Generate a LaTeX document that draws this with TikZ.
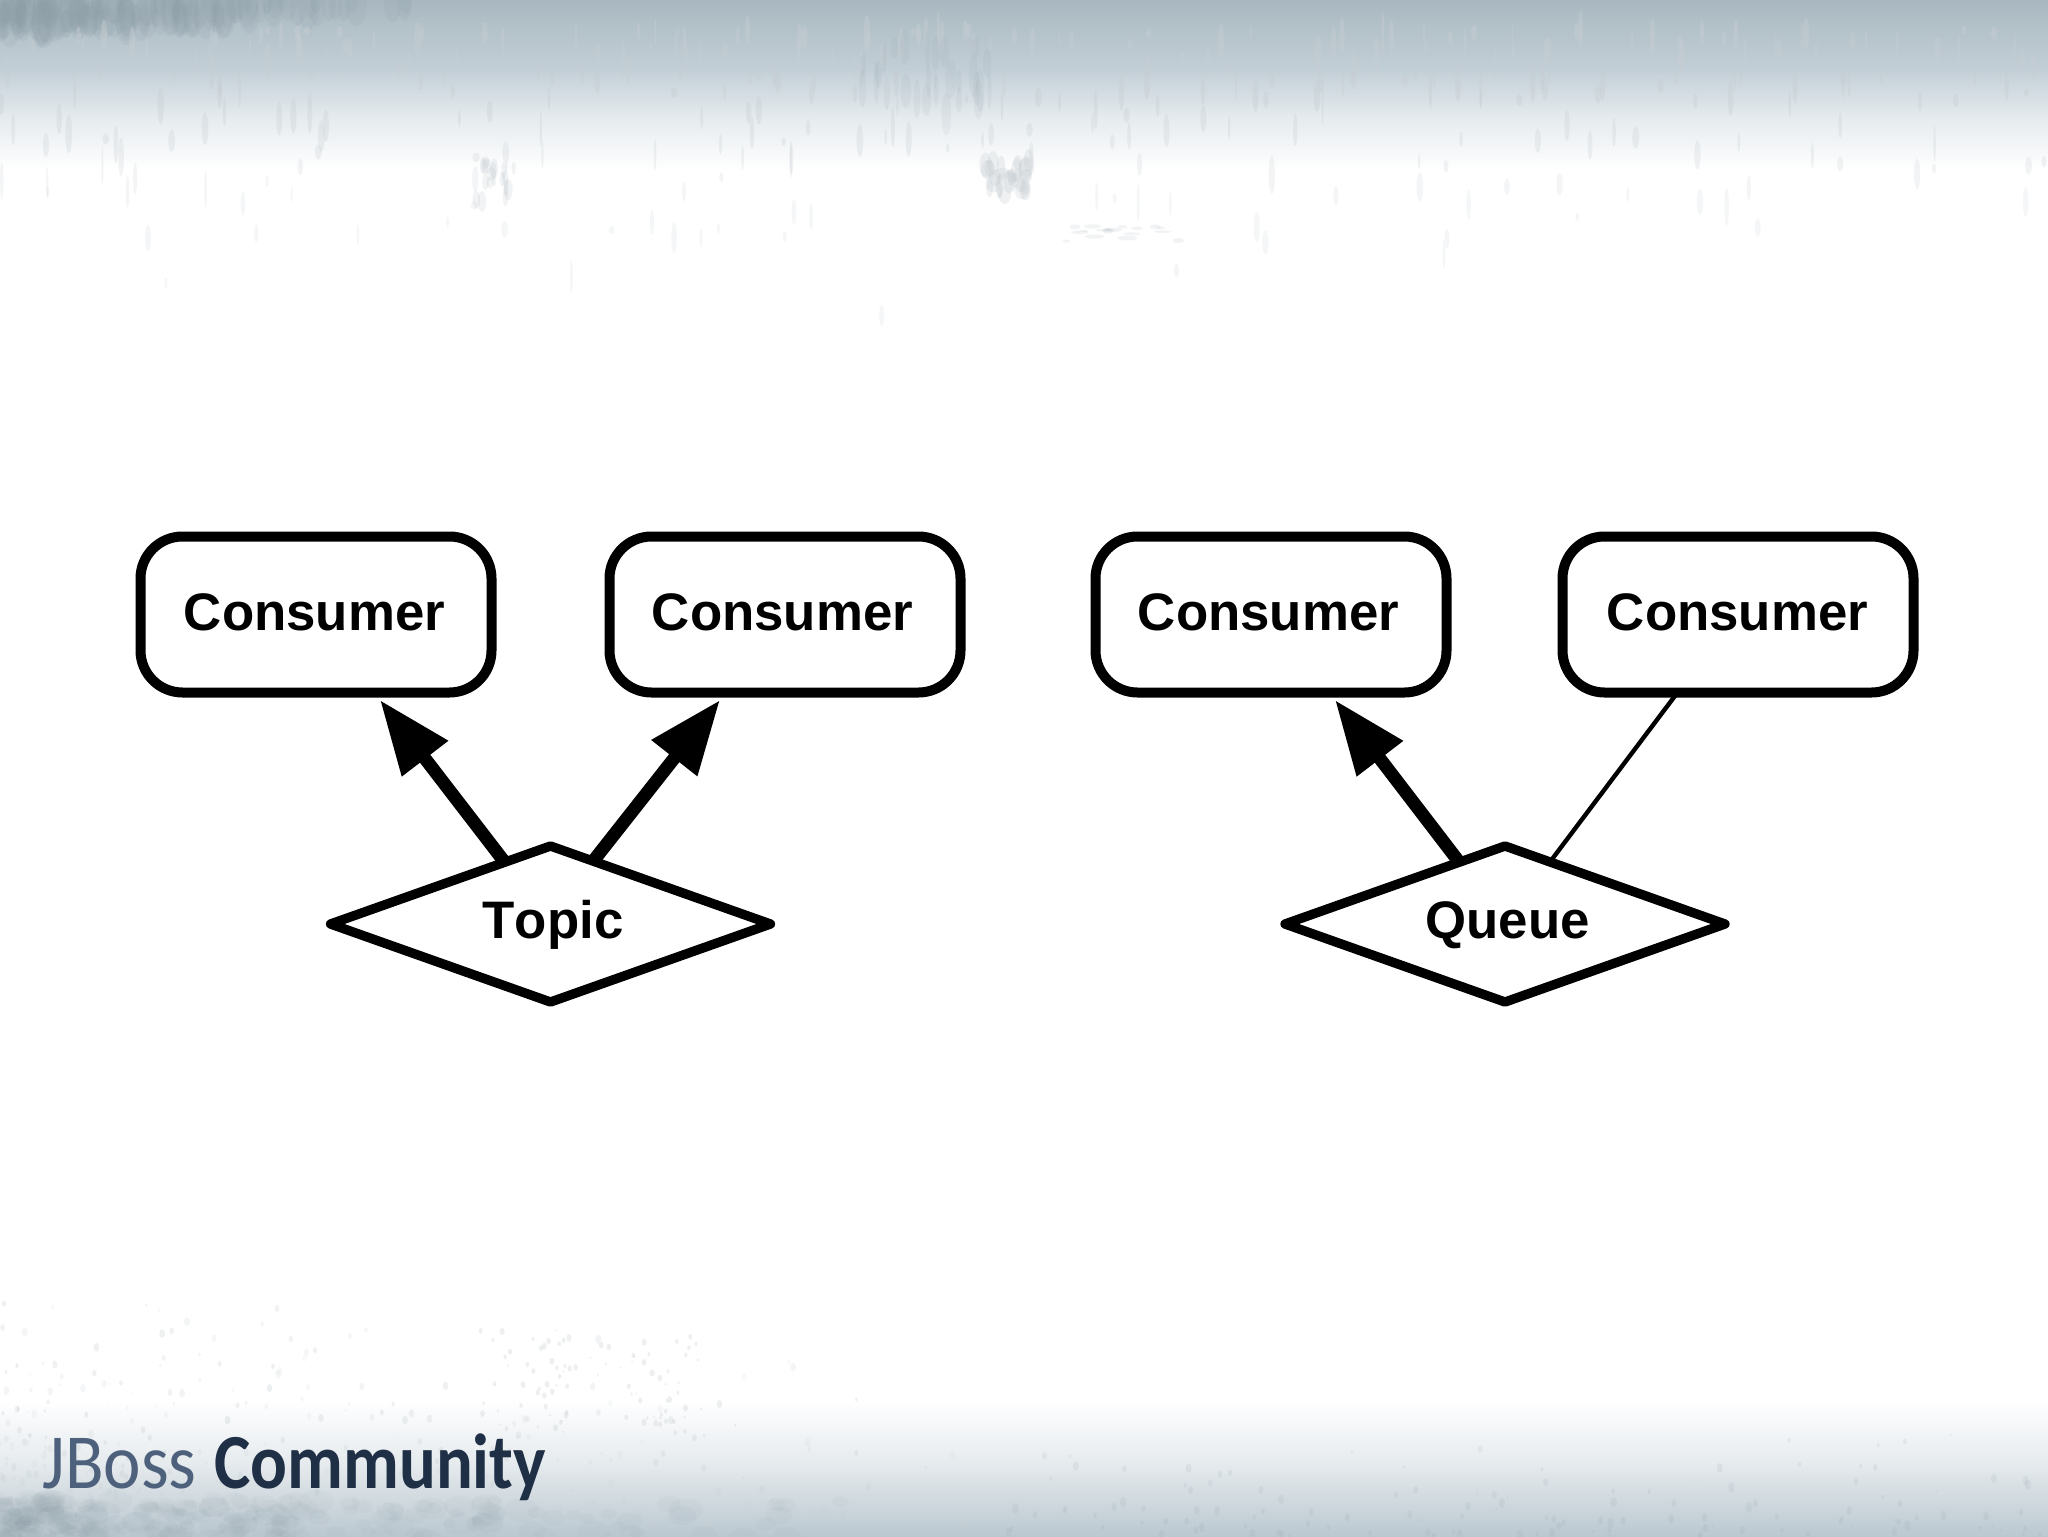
\documentclass[tikz,border=0pt]{standalone}
\usepackage{fontspec}
\usepackage{graphicx}
\setmainfont[Kerning=Off]{Liberation Sans}
\newfontfamily\logofont{Carlito}
\usetikzlibrary{shapes.geometric,arrows.meta,calc}
\pgfdeclarelayer{backdrop}
\pgfdeclarelayer{links}
\pgfsetlayers{backdrop,links,main}
\definecolor{steelA}{HTML}{8E9FA8}
\definecolor{steelB}{HTML}{A9B8C0}
\definecolor{steelC}{HTML}{C3CFD7}
\definecolor{steelD}{HTML}{E6EBEE}
\definecolor{fleck}{HTML}{C6CDD2}
\definecolor{fleckdark}{HTML}{8A9BA4}
\definecolor{logoLight}{HTML}{4D607C}
\definecolor{logoDark}{HTML}{1F2F45}
\newcommand{\dialabel}[1]{\raisebox{-7pt}[0pt][0pt]{\makebox[0pt]{\hspace*{2.6pt}#1}}}
\tikzset{
  consumerbox/.style={draw=black,line width=5pt,fill=white,rounded corners=21pt,outer sep=0pt,inner sep=0pt,
    minimum width=175.5pt,minimum height=78pt,font=\bfseries\fontsize{26.4pt}{30pt}\selectfont,text height=19pt,text depth=3pt},
  brokerdiamond/.style={diamond,aspect=2.8,draw=black,line width=4.7pt,line join=round,fill=white,outer sep=0pt,inner sep=0pt,
    minimum width=220pt,minimum height=78pt,font=\bfseries\fontsize{26.4pt}{30pt}\selectfont},
  heavylink/.style={draw=black,line width=6.5pt,-{Triangle[length=37pt,width=27.5pt]}},
  thinlink/.style={draw=black,line width=2.2pt},
}
\begin{document}
\begin{tikzpicture}[x=0.5pt,y=-0.5pt]
\useasboundingbox (0,0) rectangle (2048,1536);
\begin{pgfonlayer}{backdrop}
  \fill[white] (0,0) rectangle (2048,1536);
  % top band
  \shade[top color=steelB,bottom color=steelC] (0,0) rectangle (2048,70);
  \shade[top color=steelC,bottom color=steelD] (0,70) rectangle (2048,118);
  \shade[top color=steelD,bottom color=white] (0,118) rectangle (2048,170);
  % bottom band
  \shade[top color=white,bottom color=steelD] (0,1400) rectangle (2048,1462);
  \shade[top color=steelD,bottom color=steelC!70!steelB] (0,1462) rectangle (2048,1536);
  \pgfmathsetseed{4711}
  % darker stain, top left and top edge
  \foreach \i in {1,...,170}{
    \pgfmathsetmacro{\px}{rnd*rnd*430}
    \pgfmathsetmacro{\py}{rnd*(30-\px/18)}
    \pgfmathsetmacro{\pr}{4+rnd*7}
    \fill[steelA,opacity=.14] (\px,\py) ellipse [x radius=\pr,y radius=2.2*\pr];
  }
  % streaks, top
  \foreach \i in {1,...,340}{
    \pgfmathsetmacro{\px}{rnd*2048}
    \pgfmathsetmacro{\py}{30+rnd*rnd*290}
    \pgfmathsetmacro{\ph}{4+rnd*16}
    \pgfmathsetmacro{\pw}{.8+rnd*2.6}
    \pgfmathsetmacro{\po}{max(0.16,0.5-\py/600)}
    \fill[fleck,opacity=\po] (\px,\py) ellipse [x radius=\pw,y radius=\ph];
  }
  \foreach \i in {1,...,28}{
    \pgfmathsetmacro{\px}{985+rnd*44}
    \pgfmathsetmacro{\py}{160+rnd*36}
    \fill[fleck,opacity=.28] (\px,\py) ellipse [x radius=3+rnd*5,y radius=5+rnd*8];
  }
  \foreach \i in {1,...,26}{
    \pgfmathsetmacro{\px}{860+rnd*130}
    \pgfmathsetmacro{\py}{45+rnd*70}
    \fill[fleckdark,opacity=.09] (\px,\py) ellipse [x radius=2+rnd*4,y radius=8+rnd*14];
  }
  \foreach \i in {1,...,22}{
    \pgfmathsetmacro{\px}{470+rnd*45}
    \pgfmathsetmacro{\py}{150+rnd*60}
    \fill[fleck,opacity=.24] (\px,\py) ellipse [x radius=1.5+rnd*3,y radius=4+rnd*7];
  }
  \foreach \i in {1,...,18}{
    \pgfmathsetmacro{\px}{1060+rnd*120}
    \pgfmathsetmacro{\py}{225+rnd*18}
    \fill[fleck,opacity=.24] (\px,\py) ellipse [x radius=3+rnd*7,y radius=1+rnd*1.5];
  }
  % flecks, bottom
  \foreach \i in {1,...,420}{
    \pgfmathsetmacro{\px}{rnd*rnd*1000}
    \pgfmathsetmacro{\py}{1536-rnd*rnd*250}
    \pgfmathsetmacro{\pr}{.8+rnd*2.2}
    \pgfmathsetmacro{\po}{0.10+rnd*0.22}
    \fill[fleck,opacity=\po] (\px,\py) ellipse [x radius=\pr,y radius=1.5*\pr];
  }
  \foreach \i in {1,...,90}{
    \pgfmathsetmacro{\px}{480+rnd*220}
    \pgfmathsetmacro{\py}{1330+rnd*110}
    \pgfmathsetmacro{\pr}{.8+rnd*1.8}
    \fill[fleck,opacity=.30] (\px,\py) ellipse [x radius=\pr,y radius=1.4*\pr];
  }
  % dark mottling along the lower edge
  \foreach \i in {1,...,260}{
    \pgfmathsetmacro{\px}{rnd*rnd*900}
    \pgfmathsetmacro{\py}{1500+rnd*40}
    \pgfmathsetmacro{\pr}{4+rnd*8}
    \fill[fleckdark,opacity=.06] (\px,\py) ellipse [x radius=1.5*\pr,y radius=\pr];
  }
  \foreach \i in {1,...,130}{
    \pgfmathsetmacro{\px}{1000+rnd*1048}
    \pgfmathsetmacro{\py}{1536-rnd*rnd*120}
    \pgfmathsetmacro{\pr}{.8+rnd*2.5}
    \fill[fleckdark,opacity=.12] (\px,\py) ellipse [x radius=\pr,y radius=1.6*\pr];
  }
\end{pgfonlayer}

\node[consumerbox] (c1) at (316,614.5) {Consumer\hspace*{1.5pt}};
\node[consumerbox] (c2) at (785,614.5) {Consumer\hspace*{2.5pt}};
\node[consumerbox] (c3) at (1271,614.5) {Consumer\hspace*{2.5pt}};
\node[consumerbox] (c4) at (1738,614.5) {Consumer\hspace*{0.5pt}};
\node[brokerdiamond] (topic) at (550.5,924) {\dialabel{Topic}};
\node[brokerdiamond] (queue) at (1505,924) {\dialabel{Queue}};

\begin{pgfonlayer}{links}
  \draw[heavylink] ($(topic)+(-44.4,-60)$) -- ($(c1)+(64,85.5)$);
  \draw[heavylink] ($(topic)+(40.4,-60)$) -- ($(c2)+(-65,85.5)$);
  \draw[heavylink] ($(queue)+(-44.4,-60)$) -- ($(c3)+(64,85.5)$);
  \draw[thinlink] ($(queue)+(43.4,-60)$) -- ($(c4)+(-62,80)$);
\end{pgfonlayer}

\node[anchor=base west,inner sep=0pt,font=\logofont\fontsize{39pt}{42pt}\selectfont,text=logoLight] (logoa) at (42,1488) {\scalebox{0.91}[1]{JBoss}};
\node[anchor=base west,inner sep=0pt,font=\logofont\bfseries\fontsize{39pt}{42pt}\selectfont,text=logoDark] (logob) at (214,1488) {\scalebox{0.88}[1]{Community}};
\end{tikzpicture}
\end{document}
